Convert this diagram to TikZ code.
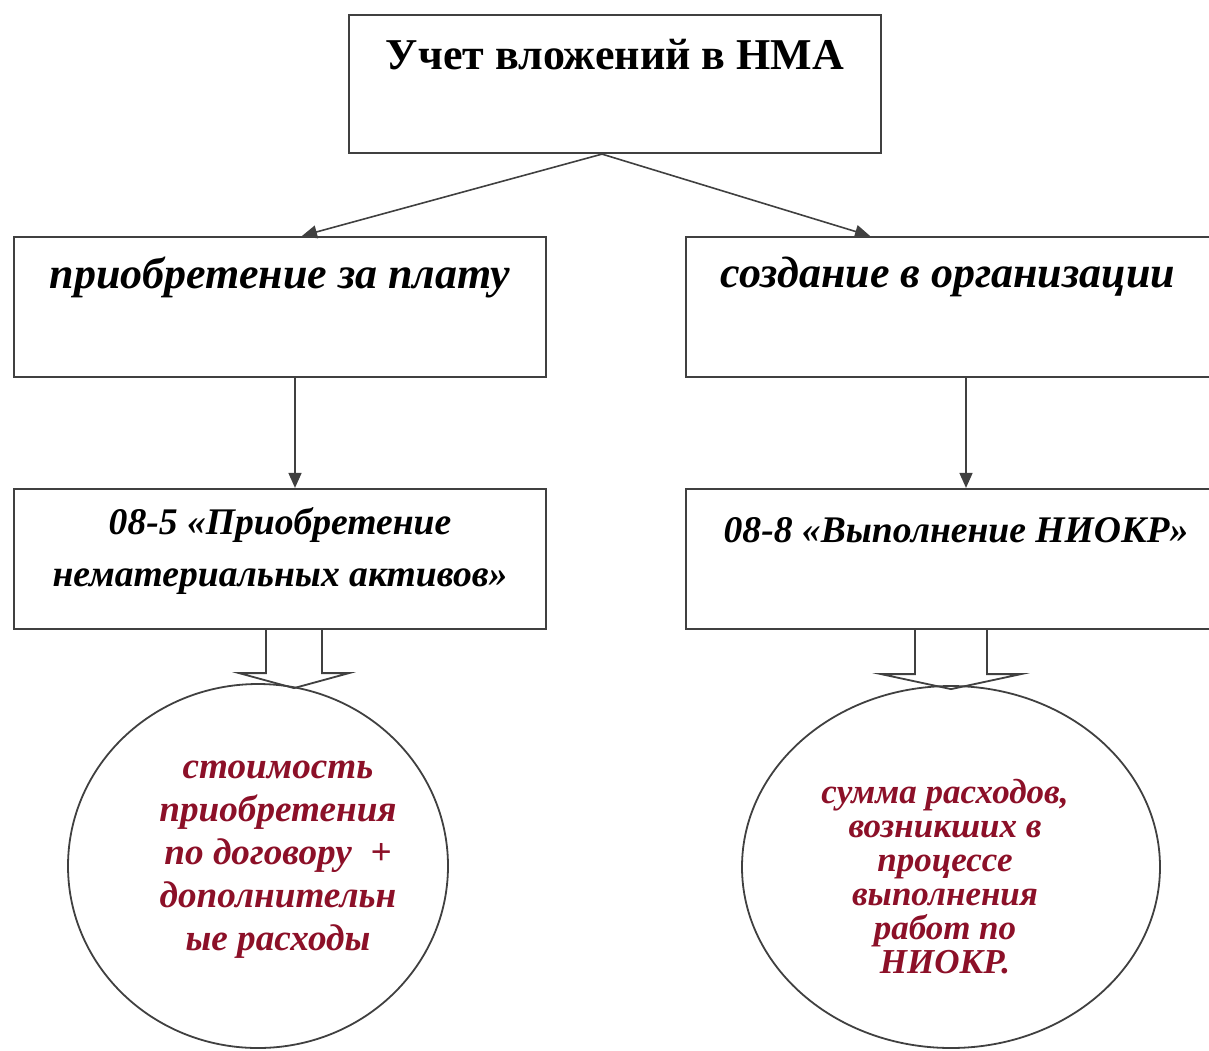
\documentclass[tikz,border=0pt]{standalone}
\usepackage{fontspec}
\setmainfont{Liberation Serif}
\usetikzlibrary{calc,shapes.geometric,arrows.meta}
\definecolor{textred}{RGB}{140,16,40}
\definecolor{linegray}{RGB}{64,64,64}
\def\openarrow[#1](#2)(#3:#4:#5){\draw[#1] ($(#2)+(-#3,0)$) -- ($(#2)+(-#3,#5)$) -- ($(#2)+(-#4,#5)$) -- ($(#2)+(0,#5+15)$) -- ($(#2)+(#4,#5)$) -- ($(#2)+(#3,#5)$) -- ($(#2)+(#3,0)$);}

\begin{document}
\begin{tikzpicture}[x=0.5pt, y=-0.5pt,
	box/.style={draw=linegray, line width=1.1pt, rectangle, minimum width=266pt, minimum height=70pt},
	oval/.style={draw=linegray, line width=0.9pt, ellipse},
	head/.style={font=\fontsize{22}{24}\selectfont\bfseries},
	branch/.style={font=\fontsize{22}{26}\selectfont\bfseries\itshape},
	account/.style={font=\fontsize{18.8}{26}\selectfont\bfseries\itshape, align=center},
	note/.style={text=textred, align=center, font=\bfseries\itshape},
	link/.style={draw=linegray, line width=0.8pt, -{Triangle[length=7.5pt, width=6.5pt]}}]
			%%%%% START %%%%%
			\useasboundingbox (0,0) rectangle (1209,1050);
			\clip (0,0) rectangle (1209,1050);
			
			\node[box, minimum height=69pt] (top) at (615,84) {};
			\node[head] (toptext) at (615,55) {Учет вложений в НМА};
			
			\node[box] (buy) at (280,307) {};
			\node[branch] (buytext) at (280,277) {приобретение за плату};
			\node[box, minimum width=268pt] (make) at (954,307) {};
			\node[branch] (maketext) at (948,277) {создание в организации};
			
			\node[box] (acc85) at (280,559) {};
			\node[account] (acc85text) at (280,551) {08-5 «Приобретение\\нематериальных активов»};
			\node[box, minimum width=268pt] (acc88) at (954,559) {};
			\node[account] (acc88text) at (956,530) {08-8 «Выполнение НИОКР»};
			
			\node[oval, minimum width=190pt, minimum height=182pt] (costbuy) at (258,866) {};
			\node[note, font=\fontsize{18.6}{21.5}\selectfont\bfseries\itshape] (costbuytext) at (278,860)
				{стоимость\\приобретения\\по договору \ +\\дополнительн\\ые расходы};
			\node[oval, minimum width=209pt, minimum height=181pt] (costmake) at (951,867) {};
			\node[note, font=\fontsize{17.5}{17}\selectfont\bfseries\itshape] (costmaketext) at (945,877)
				{сумма расходов,\\возникших в\\процессе\\выполнения\\работ по\\НИОКР.};
			
			\coordinate (split) at ($(top.south)+(-13,0)$);
			\draw[link] (split) -- ($(buy.north)+(22,0)$);
			\draw[link] (split) -- ($(make.north)+(-84,0)$);
			\draw[link] ($(buy.south)+(15,0)$) -- ($(acc85.north)+(15,0)$);
			\draw[link] ($(make.south)+(12,0)$) -- ($(acc88.north)+(12,0)$);
			
			\coordinate (out85) at ($(acc85.south)+(14,0)$);
			\coordinate (out88) at ($(acc88.south)+(-3,0)$);
			\openarrow[draw=linegray, line width=0.9pt](out85)(28:55:43);
			\openarrow[draw=linegray, line width=0.9pt](out88)(36:70:44);
			%%%%% END %%%%%
\end{tikzpicture}
\end{document}
